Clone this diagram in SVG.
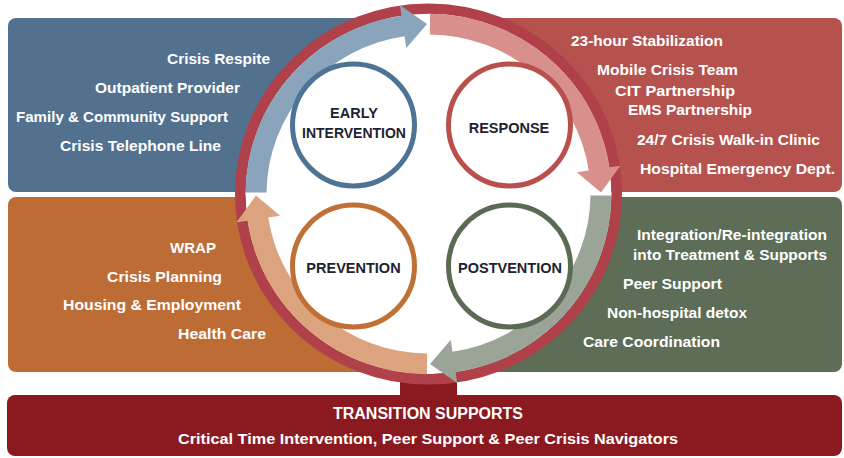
<svg xmlns="http://www.w3.org/2000/svg" width="844" height="458" viewBox="0 0 844 458">
<style>
.pt{font-family:"Liberation Sans",Arial,sans-serif;font-weight:bold;font-size:15.5px;fill:#ffffff}
.lb{font-family:"Liberation Sans",Arial,sans-serif;font-weight:bold;font-size:14.5px;fill:#1f2230;text-anchor:middle}
.ph{stroke-width:5;fill:#ffffff}
.bt{font-family:"Liberation Sans",Arial,sans-serif;font-weight:bold;fill:#ffffff;text-anchor:middle}
</style>
<defs>
<path id="arw" d="M1.6,-183 A183,183 0 0 1 181,-27.05 L191.87,-28.67 L172.49,-1.5 L148.35,-22.17 L160.22,-23.95 A162,162 0 0 0 1.41,-162 Z"/>
</defs>
<rect width="844" height="458" fill="#ffffff"/>

<g id="panel-early">
<rect x="8" y="18" width="428" height="174" rx="8" fill="#52718f"/>
<text class="pt" x="167" y="64" textLength="103" lengthAdjust="spacingAndGlyphs">Crisis Respite</text>
<text class="pt" x="95" y="93" textLength="145" lengthAdjust="spacingAndGlyphs">Outpatient Provider</text>
<text class="pt" x="16" y="122" textLength="212" lengthAdjust="spacingAndGlyphs">Family &amp; Community Support</text>
<text class="pt" x="60" y="151" textLength="161" lengthAdjust="spacingAndGlyphs">Crisis Telephone Line</text>
</g>
<g id="panel-response">
<rect x="424" y="18" width="418" height="174" rx="8" fill="#b5524e"/>
<text class="pt" x="571" y="46" textLength="152" lengthAdjust="spacingAndGlyphs">23-hour Stabilization</text>
<text class="pt" x="597" y="75" textLength="141" lengthAdjust="spacingAndGlyphs">Mobile Crisis Team</text>
<text class="pt" x="615" y="96" textLength="120" lengthAdjust="spacingAndGlyphs">CIT Partnership</text>
<text class="pt" x="628" y="115" textLength="124" lengthAdjust="spacingAndGlyphs">EMS Partnership</text>
<text class="pt" x="637" y="145" textLength="183" lengthAdjust="spacingAndGlyphs">24/7 Crisis Walk-in Clinic</text>
<text class="pt" x="640" y="174" textLength="195" lengthAdjust="spacingAndGlyphs">Hospital Emergency Dept.</text>
</g>
<g id="panel-prevention">
<rect x="8" y="197" width="428" height="175" rx="8" fill="#bd6c35"/>
<text class="pt" x="170" y="253" textLength="46" lengthAdjust="spacingAndGlyphs">WRAP</text>
<text class="pt" x="107" y="282" textLength="115" lengthAdjust="spacingAndGlyphs">Crisis Planning</text>
<text class="pt" x="63" y="310" textLength="178" lengthAdjust="spacingAndGlyphs">Housing &amp; Employment</text>
<text class="pt" x="178" y="339" textLength="88" lengthAdjust="spacingAndGlyphs">Health Care</text>
</g>
<g id="panel-postvention">
<rect x="424" y="197" width="418" height="175" rx="8" fill="#5d6d57"/>
<text class="pt" x="637" y="240" textLength="190" lengthAdjust="spacingAndGlyphs">Integration/Re-integration</text>
<text class="pt" x="633" y="260" textLength="194" lengthAdjust="spacingAndGlyphs">into Treatment &amp; Supports</text>
<text class="pt" x="623" y="289" textLength="99" lengthAdjust="spacingAndGlyphs">Peer Support</text>
<text class="pt" x="607" y="318" textLength="140" lengthAdjust="spacingAndGlyphs">Non-hospital detox</text>
<text class="pt" x="583" y="347" textLength="137" lengthAdjust="spacingAndGlyphs">Care Coordination</text>
</g>

<g id="transition">
<rect x="400" y="368" width="57" height="30" fill="#8a1a1f"/>
<rect x="7" y="395" width="835" height="61" rx="8" fill="#8a1a1f"/>
<text class="bt" x="428" y="419" font-size="16" textLength="190" lengthAdjust="spacingAndGlyphs">TRANSITION SUPPORTS</text>
<text class="bt" x="428" y="444" font-size="15" textLength="500" lengthAdjust="spacingAndGlyphs">Critical Time Intervention, Peer Support &amp; Peer Crisis Navigators</text>
</g>

<g id="connectors" transform="translate(428.5,194) scale(1,0.985)">
<circle r="183" fill="#ffffff"/>
<circle r="188.25" fill="none" stroke="#b0414b" stroke-width="10.5"/>
<use href="#arw" fill="#d7908b"/>
<use href="#arw" fill="#9aa597" transform="rotate(90)"/>
<use href="#arw" fill="#dba47e" transform="rotate(180)"/>
<use href="#arw" fill="#8aa4bb" transform="rotate(270)"/>
</g>

<g id="node-early">
<circle class="ph" cx="353.5" cy="125" r="61" stroke="#4d7395"/>
<text class="lb" x="354" y="118">EARLY</text>
<text class="lb" x="354" y="138" textLength="104" lengthAdjust="spacingAndGlyphs">INTERVENTION</text>
</g>
<g id="node-response">
<circle class="ph" cx="509.5" cy="125" r="61" stroke="#b9504d"/>
<text class="lb" x="509" y="133">RESPONSE</text>
</g>
<g id="node-prevention">
<circle class="ph" cx="353.5" cy="266" r="61" stroke="#c06f35"/>
<text class="lb" x="353.5" y="273">PREVENTION</text>
</g>
<g id="node-postvention">
<circle class="ph" cx="509.5" cy="266" r="61" stroke="#5a6a53"/>
<text class="lb" x="510" y="273">POSTVENTION</text>
</g>
</svg>
